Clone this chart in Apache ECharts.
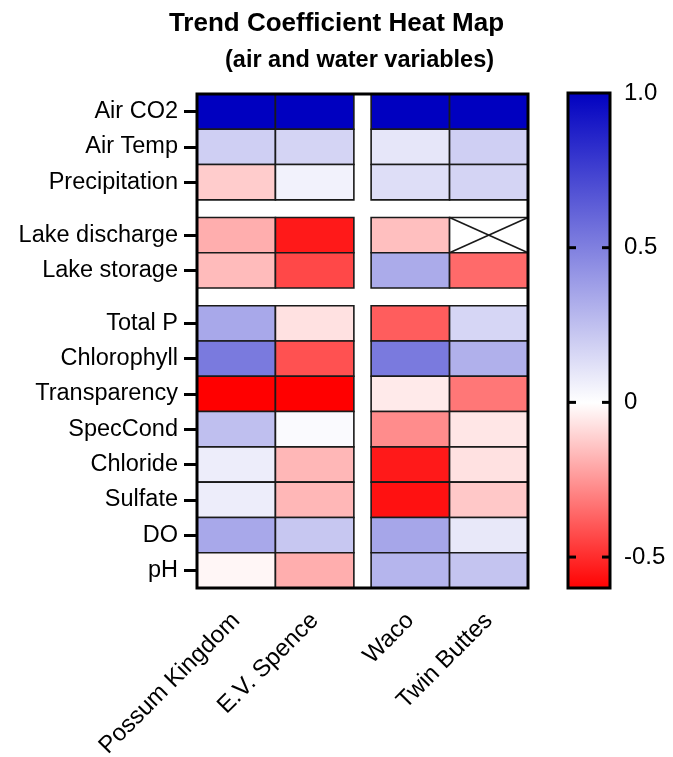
<!DOCTYPE html>
<html><head><meta charset="utf-8">
<script src="https://cdn.jsdelivr.net/npm/echarts@6/dist/echarts.min.js"></script>
<style>html,body{margin:0;padding:0;background:#fff}#c{width:673px;height:757px}</style>
</head><body><div id="c"></div>
<script>
// ---- data ----
const lakes = ['Possum Kingdom', 'E.V. Spence', 'Waco', 'Twin Buttes'];
const variables = ['Air CO2', 'Air Temp', 'Precipitation', 'Lake discharge', 'Lake storage',
  'Total P', 'Chlorophyll', 'Transparency', 'SpecCond', 'Chloride', 'Sulfate', 'DO', 'pH'];
const possumKingdom = [1.0, 0.19, -0.12, -0.19, -0.16, 0.34, 0.52, -0.60, 0.25, 0.07, 0.07, 0.34, -0.02];
const evSpence      = [1.0, 0.17, 0.05, -0.54, -0.43, -0.07, -0.41, -0.60, 0.02, -0.17, -0.17, 0.22, -0.19];
const waco          = [1.0, 0.10, 0.13, -0.15, 0.33, -0.38, 0.52, -0.05, -0.27, -0.54, -0.56, 0.35, 0.29];
const twinButtes    = [1.0, 0.19, 0.17, null, -0.35, 0.16, 0.31, -0.32, -0.06, -0.07, -0.13, 0.09, 0.23];
const lakeValues = [possumKingdom, evSpence, waco, twinButtes];
const colorLabelValues = [1.0, 0.5, 0, -0.5];
const colorTickValues = [0.5, 0, -0.5];
const colorMin = -0.6, colorMax = 1.0;
// block structure (variables grouped with a gap between blocks)
const rowBlocks = [3, 2, 8];
const colBlocks = [2, 2];

// ---- style / layout ----
const FONT = '"Liberation Sans", Arial, sans-serif';
const ROW_GAP = 0.5, COL_GAP = 0.22;
const colorAnchors = [[-0.6, [255, 0, 0]], [0, [255, 255, 255]], [1.0, [0, 0, 192]]];

function layout(blocks, gap) {
  const starts = []; let pos = 0;
  blocks.forEach(n => { for (let k = 0; k < n; k++) { starts.push(pos); pos += 1; } pos += gap; });
  return { starts, total: pos - gap };
}
const rowL = layout(rowBlocks, ROW_GAP);
const colL = layout(colBlocks, COL_GAP);
const rowCenters = rowL.starts.map(s => s + 0.5);
const colCenters = colL.starts.map(s => s + 0.5);

function anchorColor(v) {
  for (let k = 0; k < colorAnchors.length - 1; k++) {
    const [v0, c0] = colorAnchors[k], [v1, c1] = colorAnchors[k + 1];
    if (v >= v0 - 1e-9 && v <= v1 + 1e-9) {
      const t = (v - v0) / (v1 - v0);
      const c = c0.map((x, i) => Math.round(x + (c1[i] - x) * t));
      return 'rgb(' + c.join(',') + ')';
    }
  }
  return '#fff';
}
const NSTOP = 8;
const rampColors = [];
for (let k = 0; k <= NSTOP; k++) rampColors.push(anchorColor(colorMin + (colorMax - colorMin) * k / NSTOP));
// gradient for the colour bar: top = max, bottom = min
const barGradient = { type: 'linear', x: 0, y: 0, x2: 0, y2: 1,
  colorStops: rampColors.map((c, k) => ({ offset: 1 - k / NSTOP, color: c })).reverse() };

const cells = [];
lakeValues.forEach((arr, j) => arr.forEach((v, i) => cells.push([j, i, v == null ? '-' : v])));

function findLabel(val, centers, names) {
  for (let k = 0; k < centers.length; k++) if (Math.abs(centers[k] - val) < 1e-3) return names[k];
  return '';
}

const tickStyle = { color: '#000', width: 3 };
const chart = echarts.init(document.getElementById('c'), null, { renderer: 'canvas' });
chart.setOption({
  animation: false,
  backgroundColor: '#fff',
  title: [
    { text: 'Trend Coefficient Heat Map', left: 'center', top: 11, padding: 0,
      textStyle: { fontFamily: FONT, fontSize: 26, fontWeight: 'bold', color: '#000' } },
    { text: '(air and water variables)', left: 225, top: 49, padding: 0,
      textStyle: { fontFamily: FONT, fontSize: 23.5, fontWeight: 'bold', color: '#000' } }
  ],
  grid: [
    { left: 197, top: 94, width: 331, height: 494, show: true, borderColor: '#000', borderWidth: 3,
      z: 10, backgroundColor: 'transparent', outerBoundsMode: 'none', containLabel: false },
    { left: 568, top: 93, width: 42, height: 495, show: true, borderColor: '#000', borderWidth: 3,
      z: 0, backgroundColor: barGradient, outerBoundsMode: 'none', containLabel: false }
  ],
  visualMap: {
    type: 'continuous', show: false, min: colorMin, max: colorMax, dimension: 2, seriesIndex: 0,
    inRange: { color: rampColors }
  },
  xAxis: [
    { type: 'value', gridIndex: 0, min: 0, max: colL.total, position: 'bottom',
      axisLine: { show: false }, splitLine: { show: false },
      axisTick: { show: true, customValues: colCenters, length: 12, lineStyle: tickStyle },
      axisLabel: { show: true, customValues: colCenters, rotate: 45, margin: 29,
        fontFamily: FONT, fontSize: 24, color: '#000',
        formatter: v => findLabel(v, colCenters, lakes) } },
    { type: 'value', gridIndex: 1, min: 0, max: 1, show: false }
  ],
  yAxis: [
    { type: 'value', gridIndex: 0, min: 0, max: rowL.total, inverse: true, position: 'left',
      axisLine: { show: false }, splitLine: { show: false },
      axisTick: { show: true, customValues: rowCenters, length: 13, lineStyle: tickStyle },
      axisLabel: { show: true, customValues: rowCenters, margin: 19,
        fontFamily: FONT, fontSize: 23.5, color: '#000',
        formatter: v => findLabel(v, rowCenters, variables) } },
    { type: 'value', gridIndex: 1, min: colorMin, max: colorMax, position: 'right',
      axisLine: { show: false }, splitLine: { show: false }, axisTick: { show: false },
      axisLabel: { show: true, customValues: colorLabelValues, margin: 14,
        fontFamily: FONT, fontSize: 24, color: '#000',
        formatter: v => (Math.abs(v - 1) < 1e-9 ? '1.0' : String(v)) } }
  ],
  series: [
    {
      type: 'custom', xAxisIndex: 0, yAxisIndex: 0, z: 2,
      data: cells,
      encode: { x: 0, y: 1 },
      renderItem: function (params, api) {
        const j = api.value(0), i = api.value(1), v = api.value(2);
        const x0 = colL.starts[j], y0 = rowL.starts[i];
        const a = api.coord([x0, y0]), b = api.coord([x0 + 1, y0 + 1]);
        const x = Math.min(a[0], b[0]), y = Math.min(a[1], b[1]);
        const w = Math.abs(b[0] - a[0]), h = Math.abs(b[1] - a[1]);
        const stroke = { stroke: '#1a1a1a', lineWidth: 1.6 };
        if (v == null || isNaN(v)) {
          return { type: 'group', children: [
            { type: 'rect', shape: { x, y, width: w, height: h }, style: Object.assign({ fill: '#fff' }, stroke) },
            { type: 'line', shape: { x1: x, y1: y, x2: x + w, y2: y + h }, style: stroke },
            { type: 'line', shape: { x1: x, y1: y + h, x2: x + w, y2: y }, style: stroke }
          ] };
        }
        return { type: 'rect', shape: { x, y, width: w, height: h },
          style: Object.assign({ fill: api.visual('color') }, stroke) };
      }
    },
    {
      // inward tick marks on both edges of the colour bar
      type: 'custom', xAxisIndex: 1, yAxisIndex: 1, z: 20, silent: true,
      data: colorTickValues.map(v => [0, v]),
      encode: { x: 0, y: 1 },
      renderItem: function (params, api) {
        const l = api.coord([0, api.value(1)]), r = api.coord([1, api.value(1)]);
        const s = { stroke: '#000', lineWidth: 3 };
        return { type: 'group', children: [
          { type: 'line', shape: { x1: l[0], y1: l[1], x2: l[0] + 8, y2: l[1] }, style: s },
          { type: 'line', shape: { x1: r[0] - 8, y1: r[1], x2: r[0], y2: r[1] }, style: s }
        ] };
      }
    }
  ]
});
</script></body></html>
